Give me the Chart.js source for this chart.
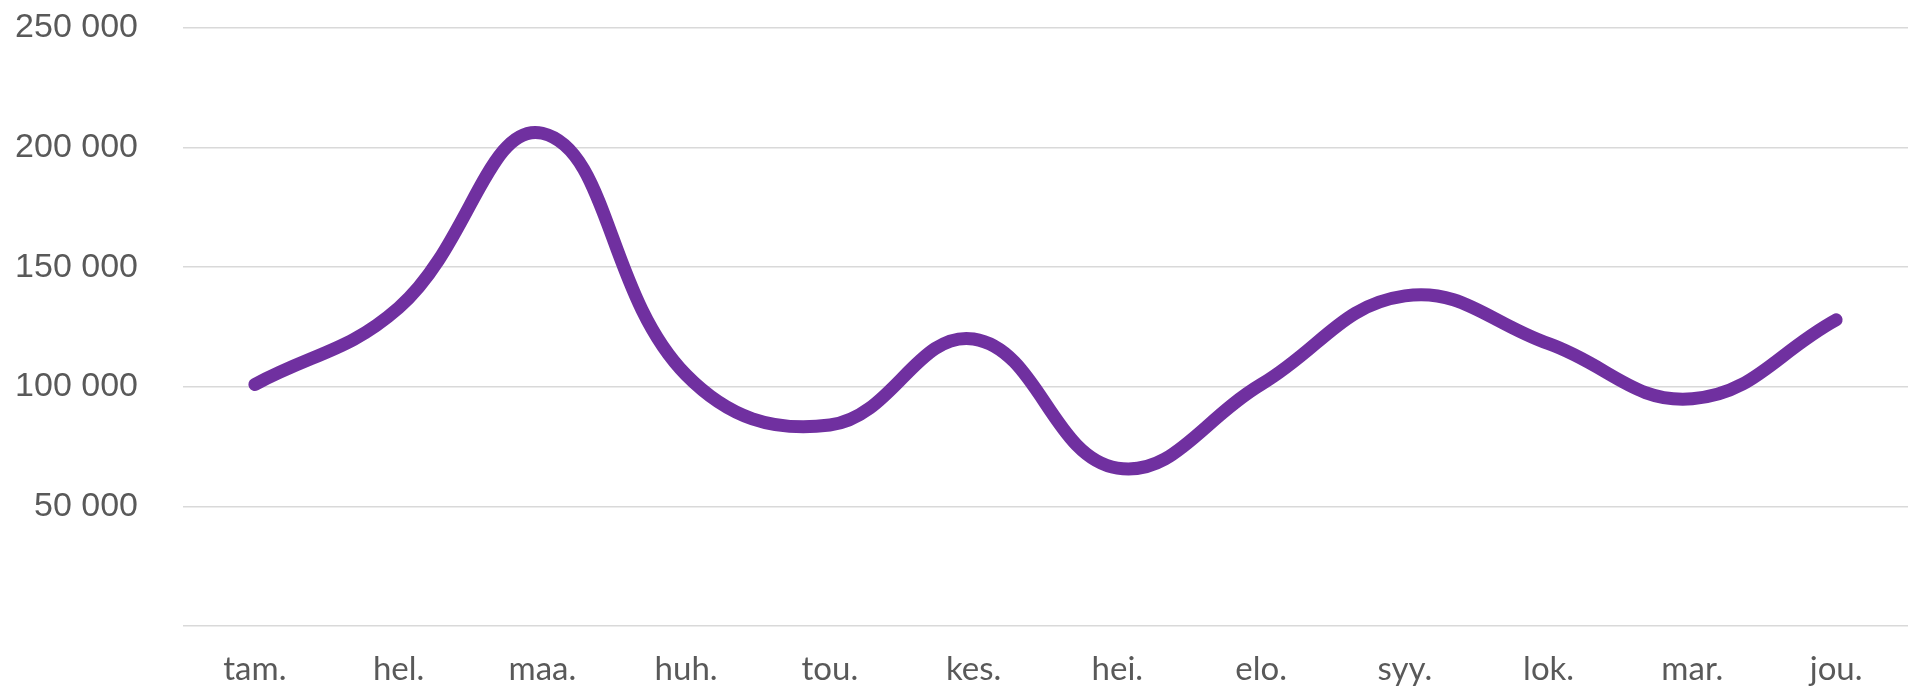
<!DOCTYPE html>
<html>
<head>
<meta charset="utf-8">
<script src="https://cdn.jsdelivr.net/npm/chart.js@4"></script>
<style>
  html, body { margin: 0; padding: 0; background: #fff; }
  #wrap { width: 1912px; height: 692px; }
</style>
</head>
<body>
<div id="wrap"><canvas id="lineChart"></canvas></div>
<script>
// months (Finnish abbreviations) and values
const months = ['tam.', 'hel.', 'maa.', 'huh.', 'tou.', 'kes.', 'hei.', 'elo.', 'syy.', 'lok.', 'mar.', 'jou.'];
const values = [101000, 133000, 206000, 105000, 84000, 120000, 66000, 101000, 138000, 118000, 95000, 128000];
const yTicks = [0, 50000, 100000, 150000, 200000, 250000];

function fmt(v) {
    if (v === 0) return '';
    return String(v).replace(/\B(?=(\d{3})+(?!\d))/g, ' ');
}

const ctx = document.getElementById('lineChart').getContext('2d');
new Chart(ctx, {
    type: 'line',
    data: {
        labels: months,
        datasets: [{
            data: values,
            borderColor: '#7030A0',
            borderWidth: 13,
            borderCapStyle: 'round',
            borderJoinStyle: 'round',
            pointRadius: 0,
            tension: 0.42,
            fill: false
        }]
    },
    options: {
        responsive: true,
        maintainAspectRatio: false,
        animation: false,
        layout: { padding: { top: 0, right: 4, left: 0, bottom: 0 } },
        plugins: {
            legend: { display: false },
            tooltip: { enabled: false }
        },
        scales: {
            x: {
                offset: true,
                grid: { display: false, drawTicks: false },
                border: { display: false },
                ticks: {
                    color: '#595959',
                    font: { family: 'Lato', size: 33 },
                    padding: 24,
                    maxRotation: 0
                },
                afterFit: s => { s.height = 66; }
            },
            y: {
                min: 0,
                max: 250000,
                afterBuildTicks: s => { s.ticks = yTicks.map(v => ({ value: v })); },
                grid: { color: '#d9d9d9', lineWidth: 1.5, drawTicks: false },
                border: { display: false },
                ticks: {
                    color: '#595959',
                    font: { family: 'Liberation Sans', size: 34, lineHeight: 1 },
                    padding: 45,
                    callback: v => fmt(v)
                },
                afterFit: s => { s.width = 183; s.paddingTop = 28; }
            }
        }
    }
});
</script>
</body>
</html>
